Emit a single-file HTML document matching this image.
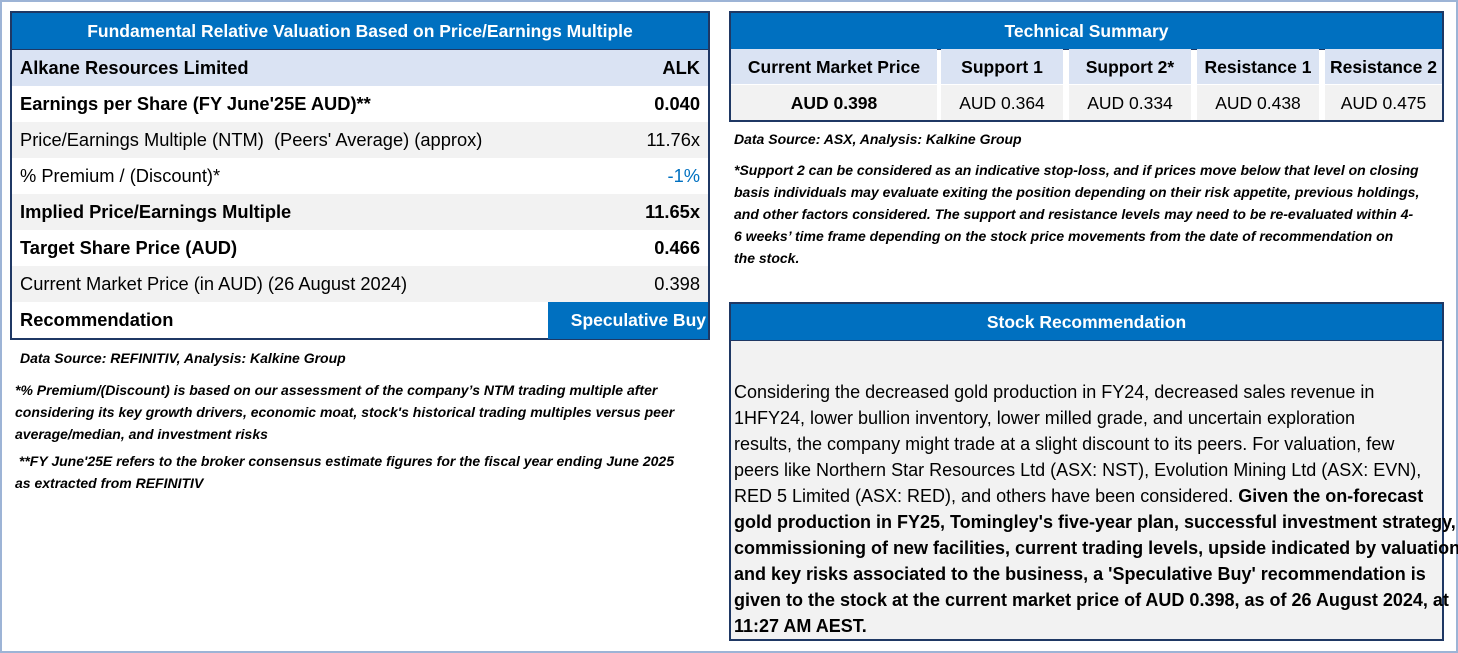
<!DOCTYPE html>
<html><head><meta charset="utf-8"><style>
body{margin:0;width:1458px;height:653px;background:#fff;position:relative;overflow:hidden;font-family:"Liberation Sans",sans-serif;color:#000}
.frame{position:absolute;left:0;top:0;width:1454px;height:649px;border:2px solid #9db4d6}
.box{position:absolute;border:2px solid #1f3864;box-sizing:border-box}
.hdr{background:#0070c0;color:#fff;font-weight:bold;text-align:center;font-size:17.5px;height:36px;line-height:36px;border-bottom:1px solid #1f3864}
.row{height:36px;line-height:36px;font-size:18.3px;padding:0 8px;display:flex;justify-content:space-between;white-space:nowrap}
.b{font-weight:bold}
.g{background:#f2f2f2}.lb{background:#dae3f3}
.note{position:absolute;font-style:italic;font-weight:bold;font-size:14px;line-height:22px;white-space:nowrap}
.tcell{position:absolute;text-align:center;font-size:17.5px;height:35px;line-height:37px;white-space:nowrap}
</style></head><body>
<div class="frame"></div>

<div class="box" style="left:10px;top:11px;width:700px;height:329px">
 <div class="hdr">Fundamental Relative Valuation Based on Price/Earnings Multiple</div>
 <div class="row lb b"><span>Alkane Resources Limited</span><span>ALK</span></div>
 <div class="row b"><span>Earnings per Share (FY June'25E AUD)**</span><span>0.040</span></div>
 <div class="row g"><span>Price/Earnings Multiple (NTM)&nbsp; (Peers' Average) (approx)</span><span>11.76x</span></div>
 <div class="row"><span>% Premium / (Discount)*</span><span style="color:#0070c0">-1%</span></div>
 <div class="row g b"><span>Implied Price/Earnings Multiple</span><span>11.65x</span></div>
 <div class="row b"><span>Target Share Price (AUD)</span><span>0.466</span></div>
 <div class="row g"><span>Current Market Price (in AUD) (26 August 2024)</span><span>0.398</span></div>
 <div class="row b" style="padding-right:0;height:37px"><span>Recommendation</span><span style="background:#0070c0;color:#fff;width:158px;text-align:right;padding-right:2px;font-size:17.5px">Speculative Buy</span></div>
</div>
<div class="note" style="left:20px;top:347px">Data Source: REFINITIV, Analysis: Kalkine Group</div>
<div class="note" style="left:15px;top:379px">*% Premium/(Discount) is based on our assessment of the company’s NTM trading multiple after<br>considering its key growth drivers, economic moat, stock's historical trading multiples versus peer<br>average/median, and investment risks</div>
<div class="note" style="left:15px;top:450px">&nbsp;**FY June'25E refers to the broker consensus estimate figures for the fiscal year ending June 2025<br>as extracted from REFINITIV</div>

<div class="box" style="left:729px;top:11px;width:715px;height:111px">
 <div class="hdr">Technical Summary</div>
</div>
<div class="tcell lb b" style="left:731px;top:49px;width:206px">Current Market Price</div>
<div class="tcell lb b" style="left:941px;top:49px;width:122px">Support 1</div>
<div class="tcell lb b" style="left:1069px;top:49px;width:122px">Support 2*</div>
<div class="tcell lb b" style="left:1197px;top:49px;width:122px">Resistance 1</div>
<div class="tcell lb b" style="left:1325px;top:49px;width:117px">Resistance 2</div>
<div class="tcell g b" style="left:731px;top:85px;width:206px">AUD 0.398</div>
<div class="tcell g" style="left:941px;top:85px;width:122px">AUD 0.364</div>
<div class="tcell g" style="left:1069px;top:85px;width:122px">AUD 0.334</div>
<div class="tcell g" style="left:1197px;top:85px;width:122px">AUD 0.438</div>
<div class="tcell g" style="left:1325px;top:85px;width:117px">AUD 0.475</div>
<div class="note" style="left:734px;top:128px">Data Source: ASX, Analysis: Kalkine Group</div>
<div class="note" style="left:734px;top:159px">*Support 2 can be considered as an indicative stop-loss, and if prices move below that level on closing<br>basis individuals may evaluate exiting the position depending on their risk appetite, previous holdings,<br>and other factors considered. The support and resistance levels may need to be re-evaluated within 4-<br>6 weeks’ time frame depending on the stock price movements from the date of recommendation on<br>the stock.</div>

<div class="box" style="left:729px;top:302px;width:715px;height:339px;background:#f2f2f2">
 <div class="hdr">Stock Recommendation</div>
 <div style="position:absolute;left:3px;top:75px;font-size:18px;line-height:26px;white-space:nowrap">Considering the decreased gold production in FY24, decreased sales revenue in<br>1HFY24, lower bullion inventory, lower milled grade, and uncertain exploration<br>results, the company might trade at a slight discount to its peers. For valuation, few<br>peers like Northern Star Resources Ltd (ASX: NST), Evolution Mining Ltd (ASX: EVN),<br>RED 5 Limited (ASX: RED), and others have been considered. <b>Given the on-forecast<br>gold production in FY25, Tomingley's five-year plan, successful investment strategy,<br>commissioning of new facilities, current trading levels, upside indicated by valuation,<br>and key risks associated to the business, a 'Speculative Buy' recommendation is<br>given to the stock at the current market price of AUD 0.398, as of 26 August 2024, at<br>11:27 AM AEST.</b></div>
</div>
</body></html>
